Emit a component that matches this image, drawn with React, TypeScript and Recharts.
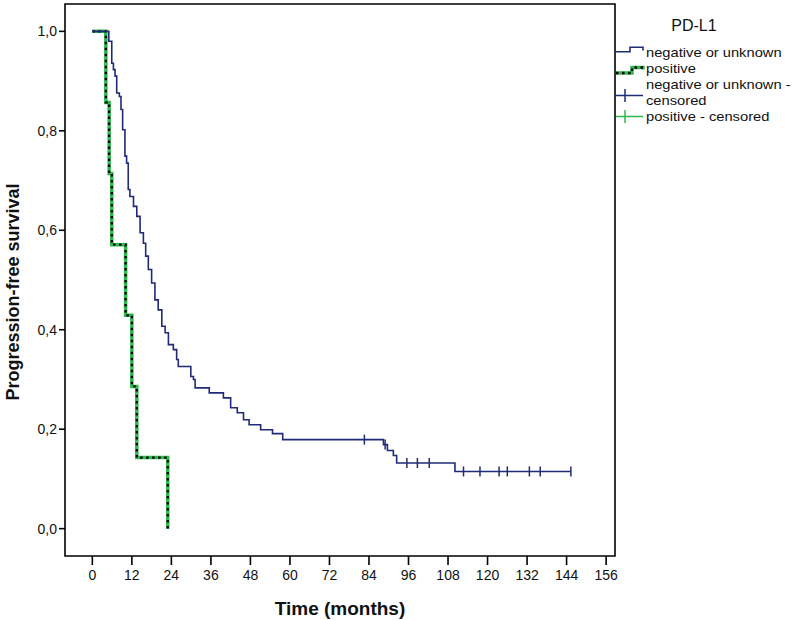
import React from 'react';
import { ComposedChart, Line, Scatter, XAxis, YAxis, ReferenceArea, Legend } from 'recharts';

// Kaplan-Meier steps (time in months, survival proportion)
const negTime = [
  0, 5.0, 5.9, 6.4, 6.9, 7.4, 8.2, 8.7, 9.2, 9.9, 10.4, 10.9, 11.4, 12.5, 13.5, 14.5, 15.5,
  16.2, 17.0, 18.0, 19.0, 20.0, 21.1, 22.1, 23.1, 24.6, 25.6, 26.1, 29.9, 30.7, 31.2, 35.5,
  39.8, 42.0, 44.0, 45.9, 47.6, 51.1, 54.7, 57.8, 88.4, 89.6, 91.4, 92.4, 110.1, 145.3,
];
const negSurvival = [
  1, 0.98, 0.936, 0.923, 0.91, 0.876, 0.869, 0.843, 0.802, 0.749, 0.735, 0.682, 0.668, 0.648,
  0.628, 0.595, 0.574, 0.548, 0.521, 0.494, 0.46, 0.44, 0.407, 0.394, 0.37, 0.36, 0.34, 0.326,
  0.306, 0.3, 0.283, 0.273, 0.263, 0.243, 0.233, 0.219, 0.209, 0.199, 0.191, 0.179, 0.169,
  0.157, 0.147, 0.132, 0.115, 0.115,
];
const posTime = [0, 4.1, 5.1, 5.9, 10.1, 12.0, 13.5, 22.9];
const posSurvival = [1, 0.857, 0.714, 0.571, 0.429, 0.286, 0.143, 0];

const negCensorTime = [82.6, 88.9, 95.5, 98.7, 102.3, 112.7, 117.7, 123.5, 126.0, 132.7, 136.0, 145.3];
const negCensorSurvival = [0.179, 0.169, 0.132, 0.132, 0.132, 0.115, 0.115, 0.115, 0.115, 0.115, 0.115, 0.115];

const xTicks = [0, 12, 24, 36, 48, 60, 72, 84, 96, 108, 120, 132, 144, 156];
const yTicks = [0, 0.2, 0.4, 0.6, 0.8, 1.0];

const legendTitle = 'PD-L1';
const legendLines = [
  'negative or unknown',
  'positive',
  'negative or unknown -',
  'censored',
  'positive - censored',
];

const NAVY = '#1f2b78';
const GREEN = '#2eb84e';
const FONT = '"Liberation Sans", Arial, sans-serif';

const toPoints = (t: number[], s: number[]) => t.map((v, i) => ({ t: v, s: s[i] }));

const negData = toPoints(negTime, negSurvival);
const posData = toPoints(posTime, posSurvival);
const negCensored = toPoints(negCensorTime, negCensorSurvival);

const CensorMark = (props: any) => {
  const { cx, cy } = props;
  return <line x1={cx} x2={cx} y1={cy - 5} y2={cy + 5} stroke={NAVY} strokeWidth={1.5} />;
};

const XTitle = (props: any) => {
  const { viewBox } = props;
  return (
    <text
      x={viewBox.x + viewBox.width / 2}
      y={viewBox.y + viewBox.height - 5}
      textAnchor="middle"
      fontSize={19}
      fontWeight="bold"
      fontFamily={FONT}
      fill="#111"
    >
      Time (months)
    </text>
  );
};

const YTitle = (props: any) => {
  const { viewBox } = props;
  const x = 19;
  const y = viewBox.y + viewBox.height / 2 + 12;
  return (
    <text
      x={x}
      y={y}
      transform={`rotate(-90 ${x} ${y})`}
      textAnchor="middle"
      fontSize={18}
      fontWeight="bold"
      fontFamily={FONT}
      fill="#111"
    >
      Progression-free survival
    </text>
  );
};

// legend text is a little wider than tall in the source, so stretch it to the read widths
const LegendBox = () => {
  const baselines = [49, 65, 81, 96.5, 112.5];
  const widths = [135.6, 49.8, 144.6, 60.5, 123.4];
  return (
    <svg width={180} height={125} style={{ fontFamily: FONT }}>
      <text x={79} y={23} textAnchor="middle" fontSize={16} fill="#111">
        {legendTitle}
      </text>
      <path d="M1 43.7 H15 V39.3 H28 V42.5" fill="none" stroke={NAVY} strokeWidth={1.6} />
      <path d="M1 65 H17 V59.5 H28 V61.5" fill="none" stroke={GREEN} strokeWidth={3.5} />
      <path d="M1 65 H17 V59.5 H28 V61.5" fill="none" stroke="#000" strokeWidth={2.3} strokeDasharray="2.5 3.5" />
      <line x1={1} x2={28} y1={87.5} y2={87.5} stroke={NAVY} strokeWidth={1.5} />
      <line x1={10} x2={10} y1={81} y2={94} stroke={NAVY} strokeWidth={1.5} />
      <line x1={1} x2={28} y1={108.5} y2={108.5} stroke={GREEN} strokeWidth={1.5} />
      <line x1={10} x2={10} y1={102} y2={115} stroke={GREEN} strokeWidth={1.5} />
      {legendLines.map((s, i) => (
        <text
          key={s}
          x={31}
          y={baselines[i]}
          fontSize={13}
          fill="#111"
          textLength={widths[i]}
          lengthAdjust="spacingAndGlyphs"
        >
          {s}
        </text>
      ))}
    </svg>
  );
};

const X_DOMAIN: [number, number] = [-8.3, 158.7];
const Y_DOMAIN: [number, number] = [-0.055, 1.055];

export default function App() {
  return (
    <div style={{ position: 'absolute', left: 0, top: 0, fontFamily: FONT }}>
      <ComposedChart width={795} height={620} margin={{ top: 4, right: 180, bottom: 0, left: 0 }}>
        <XAxis
          type="number"
          dataKey="t"
          domain={X_DOMAIN}
          ticks={xTicks}
          allowDataOverflow
          axisLine={false}
          tickSize={9}
          tickMargin={5}
          height={64}
          tickLine={{ stroke: '#000', strokeWidth: 1.6 }}
          tick={{ fontSize: 14, fill: '#111', fontFamily: FONT }}
          label={<XTitle />}
        />
        <YAxis
          type="number"
          dataKey="s"
          domain={Y_DOMAIN}
          ticks={yTicks}
          allowDataOverflow
          axisLine={false}
          width={65}
          tickSize={6}
          tickMargin={2}
          tickLine={{ stroke: '#000', strokeWidth: 1.6 }}
          tick={{ fontSize: 14, fill: '#111', fontFamily: FONT }}
          tickFormatter={(v: number) => v.toFixed(1).replace('.', ',')}
          label={<YTitle />}
        />
        <ReferenceArea
          x1={X_DOMAIN[0]}
          x2={X_DOMAIN[1]}
          y1={Y_DOMAIN[0]}
          y2={Y_DOMAIN[1]}
          fill="none"
          stroke="#000"
          strokeWidth={1.6}
          ifOverflow="visible"
        />
        <Line
          data={posData}
          dataKey="s"
          type="stepAfter"
          stroke={GREEN}
          strokeWidth={3.5}
          dot={false}
          activeDot={false}
          isAnimationActive={false}
        />
        <Line
          data={posData}
          dataKey="s"
          type="stepAfter"
          stroke="#000"
          strokeWidth={2.3}
          strokeDasharray="2.5 3.5"
          dot={false}
          activeDot={false}
          isAnimationActive={false}
        />
        <Line
          data={negData}
          dataKey="s"
          type="stepAfter"
          stroke={NAVY}
          strokeWidth={1.6}
          dot={false}
          activeDot={false}
          isAnimationActive={false}
        />
        <Scatter data={negCensored} dataKey="s" shape={<CensorMark />} isAnimationActive={false} />
        <Legend
          layout="vertical"
          align="center"
          verticalAlign="middle"
          content={<LegendBox />}
          wrapperStyle={{ left: 615, top: 8, width: 180, height: 125 }}
        />
      </ComposedChart>
    </div>
  );
}
